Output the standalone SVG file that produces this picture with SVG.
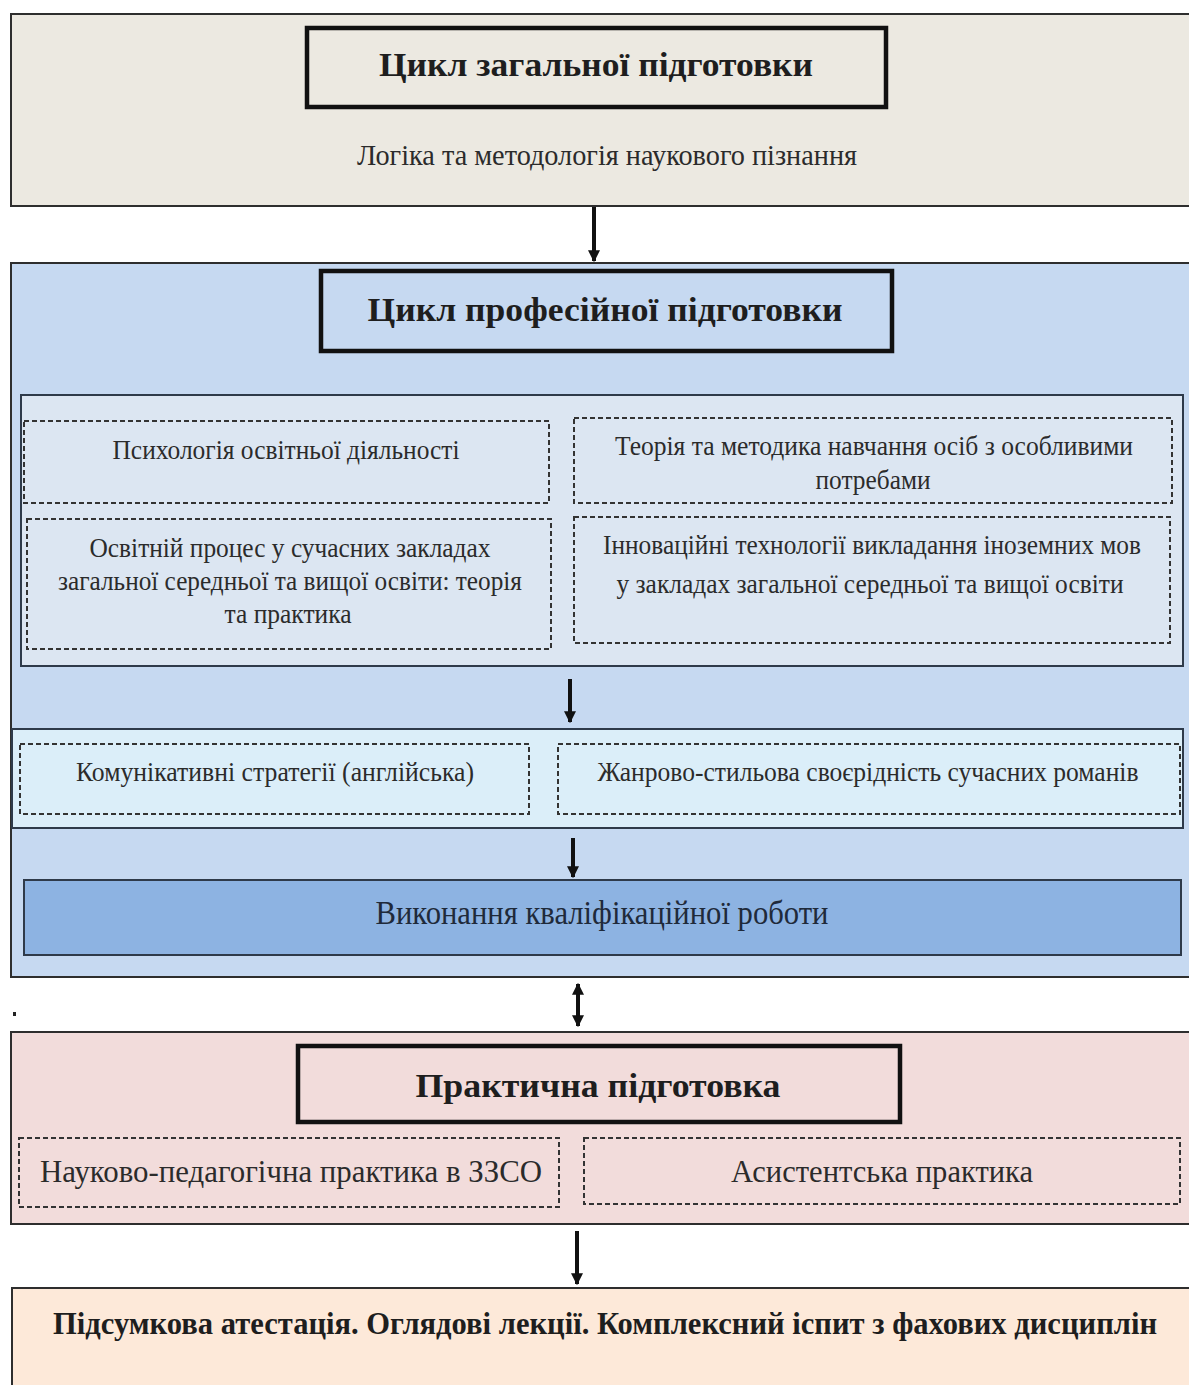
<svg xmlns="http://www.w3.org/2000/svg" width="1189" height="1385" viewBox="0 0 1189 1385">
<defs>
<style>
text{font-family:"Liberation Serif","Times New Roman",serif;fill:#2b2b2b;text-anchor:middle}
.b{font-weight:bold;fill:#1e1e1e}
.outer{stroke:#2e2e2e;stroke-width:2}
.title{fill:none;stroke:#111;stroke-width:4.5}
.dash{fill:none;stroke:#333;stroke-width:2;stroke-dasharray:5 3}
.panel{stroke:#2e3a4a;stroke-width:2}
.con{stroke:#111;stroke-width:4;fill:none}
.t{font-size:27px}
</style>
<marker id="ah" viewBox="0 0 10 10" refX="9" refY="5" markerWidth="12" markerHeight="12" markerUnits="userSpaceOnUse" orient="auto-start-reverse">
<path d="M0,0 L10,5 L0,10 z" fill="#111"/>
</marker>
</defs>
<rect width="1189" height="1385" fill="#ffffff"/>

<g id="general">
<rect class="outer" x="11" y="14" width="1185" height="192" fill="#ECE9E1"/>
<rect class="title" x="307" y="28" width="579" height="79"/>
<text class="b" x="596" y="76" font-size="33" textLength="434" lengthAdjust="spacingAndGlyphs">Цикл загальної підготовки</text>
<text x="607" y="165" font-size="29" textLength="500" lengthAdjust="spacingAndGlyphs">Логіка та методологія наукового пізнання</text>
</g>

<g id="professional">
<rect class="outer" x="11" y="263" width="1185" height="714" fill="#C6D9F1"/>
<rect class="title" x="321" y="271" width="571" height="80"/>
<text class="b" x="605" y="321" font-size="34" textLength="475" lengthAdjust="spacingAndGlyphs">Цикл професійної підготовки</text>
</g>

<g id="panel1">
<rect class="panel" x="21" y="395" width="1162" height="271" fill="#DCE6F2"/>
</g>
<g id="psych">
<rect class="dash" x="24" y="421" width="525" height="82"/>
<text class="t" x="286" y="459" textLength="347" lengthAdjust="spacingAndGlyphs">Психологія освітньої діяльності</text>
</g>
<g id="theory">
<rect class="dash" x="574" y="418" width="598" height="85"/>
<text class="t" x="874" y="455" textLength="518" lengthAdjust="spacingAndGlyphs">Теорія та методика навчання осіб з особливими</text>
<text class="t" x="873" y="489" textLength="115" lengthAdjust="spacingAndGlyphs">потребами</text>
</g>
<g id="process">
<rect class="dash" x="27" y="519" width="524" height="130"/>
<text class="t" x="290" y="557" textLength="401" lengthAdjust="spacingAndGlyphs">Освітній процес у сучасних закладах</text>
<text class="t" x="290" y="590" textLength="464" lengthAdjust="spacingAndGlyphs">загальної середньої та вищої освіти: теорія</text>
<text class="t" x="288" y="623" textLength="127" lengthAdjust="spacingAndGlyphs">та практика</text>
</g>
<g id="innov">
<rect class="dash" x="574" y="517" width="596" height="126"/>
<text class="t" x="872" y="554" textLength="538" lengthAdjust="spacingAndGlyphs">Інноваційні технології викладання іноземних мов</text>
<text class="t" x="870" y="593" textLength="507" lengthAdjust="spacingAndGlyphs">у закладах загальної середньої та вищої освіти</text>
</g>

<g id="panel2">
<rect class="panel" x="12" y="729" width="1171" height="99" fill="#DBEEF9"/>
</g>
<g id="comm">
<rect class="dash" x="20" y="744" width="509" height="70"/>
<text class="t" x="275" y="781" textLength="398" lengthAdjust="spacingAndGlyphs">Комунікативні стратегії (англійська)</text>
</g>
<g id="genre">
<rect class="dash" x="558" y="744" width="622" height="70"/>
<text class="t" x="868" y="781" textLength="541" lengthAdjust="spacingAndGlyphs">Жанрово-стильова своєрідність сучасних романів</text>
</g>

<g id="thesis">
<rect class="panel" x="24" y="880" width="1157" height="75" fill="#8DB3E2"/>
<text x="602" y="924" font-size="34" textLength="453" lengthAdjust="spacingAndGlyphs" style="fill:#1f2a3a">Виконання кваліфікаційної роботи</text>
</g>

<g id="practice">
<rect class="outer" x="11" y="1032" width="1185" height="192" fill="#F2DCDB"/>
<rect class="title" x="298" y="1046" width="602" height="76"/>
<text class="b" x="598" y="1097" font-size="34" textLength="365" lengthAdjust="spacingAndGlyphs">Практична підготовка</text>
</g>
<g id="pract1">
<rect class="dash" x="19" y="1138" width="540" height="69"/>
<text x="291" y="1182" font-size="32" textLength="502" lengthAdjust="spacingAndGlyphs">Науково-педагогічна практика в ЗЗСО</text>
</g>
<g id="pract2">
<rect class="dash" x="584" y="1138" width="596" height="66"/>
<text x="882" y="1182" font-size="32" textLength="302" lengthAdjust="spacingAndGlyphs">Асистентська практика</text>
</g>

<g id="final">
<rect class="outer" x="12" y="1288" width="1180" height="102" fill="#FDE9D9"/>
<text class="b" x="605" y="1334" font-size="31" textLength="1104" lengthAdjust="spacingAndGlyphs">Підсумкова атестація. Оглядові лекції. Комплексний іспит з фахових дисциплін</text>
</g>

<g id="dot">
<rect x="13" y="1012" width="3" height="4" fill="#222"/>
</g>

<g id="connectors">
<line class="con" x1="594" y1="207" x2="594" y2="261" marker-end="url(#ah)"/>
<line class="con" x1="570" y1="679" x2="570" y2="722" marker-end="url(#ah)"/>
<line class="con" x1="573" y1="838" x2="573" y2="877" marker-end="url(#ah)"/>
<line class="con" x1="578" y1="984" x2="578" y2="1026" marker-start="url(#ah)" marker-end="url(#ah)"/>
<line class="con" x1="577" y1="1231" x2="577" y2="1284" marker-end="url(#ah)"/>
</g>
</svg>
